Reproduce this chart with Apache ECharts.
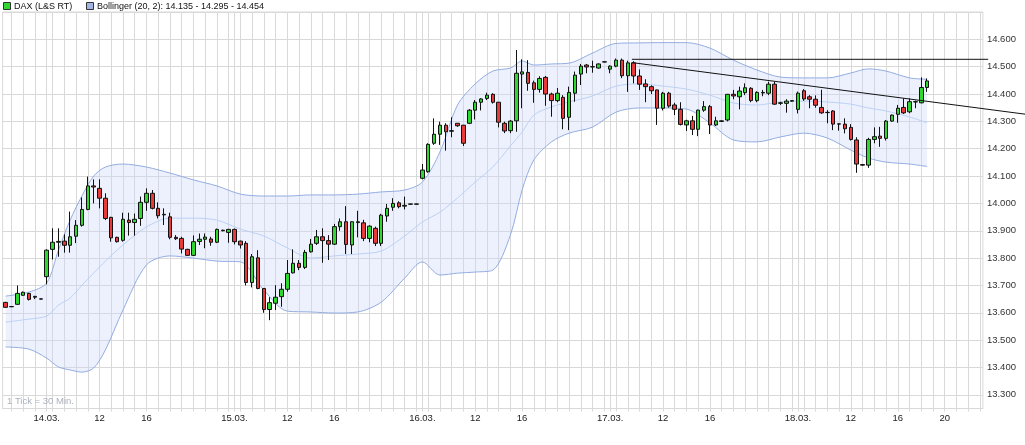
<!DOCTYPE html>
<html><head><meta charset="utf-8">
<script src="https://cdn.jsdelivr.net/npm/echarts@6/dist/echarts.min.js"></script>
<style>html,body{margin:0;padding:0;background:#fff}#c{width:1025px;height:445px}</style>
</head><body><div id="c"></div>
<script>
// ---- data ----
const days = ['11.03.', '14.03.', '15.03.', '16.03.', '17.03.', '18.03.'];
const firstSession = ['19:30', '22:30'];
const fullSession = ['07:30', '23:00'];

const open = [13638,13623,13631,13664,13671,13660,13651,13732,13832,13858,13862,13847,13880,13920,13978,14064,14055,14019,13949,13876,
13865,13939,13930,13945,14004,14037,13982,13958,13951,13876,13872,13832,13810,13861,13869,13870,13858,13902,13894,13905,
13862,13854,13711,13801,13689,13612,13635,13659,13686,13746,13781,13766,13823,13854,13878,13864,13851,13915,13933,13848,
13930,13929,13872,13909,13854,13954,13986,14002,13990,13997,13997,14092,14116,14220,14253,14286,14264,14293,14286,14293,
14341,14370,14384,14399,14370,14293,14266,14302,14473,14479,14441,14417,14461,14400,14376,14388,14315,14403,14473,14506,
14499,14495,14517,14491,14502,14524,14467,14514,14466,14437,14427,14415,14348,14403,14360,14344,14287,14302,14271,14341,
14354,14287,14300,14305,14399,14390,14405,14421,14376,14404,14403,14436,14366,14366,14374,14344,14412,14390,14381,14351,
14332,14338,14291,14290,14278,14232,14142,14140,14234,14246,14238,14301,14326,14351,14335,14371,14368,14424];
const close = [13620,13622,13671,13675,13649,13657,13650,13829,13858,13861,13847,13878,13920,13978,14064,14060,14019,13945,13874,13860,
13942,13930,13942,14004,14037,13982,13955,13960,13876,13871,13833,13810,13860,13869,13877,13858,13905,13900,13905,13860,
13848,13711,13805,13689,13612,13637,13657,13686,13744,13781,13766,13821,13851,13878,13864,13851,13915,13933,13850,13933,
13933,13872,13917,13854,13957,13982,14000,13988,13993,13998,13998,14122,14216,14253,14286,14262,14266,14284,14220,14341,
14370,14382,14396,14370,14297,14265,14301,14476,14481,14439,14417,14457,14400,14376,14403,14311,14406,14469,14502,14499,
14500,14510,14518,14502,14524,14467,14514,14466,14436,14427,14412,14348,14403,14356,14344,14289,14302,14271,14341,14354,
14287,14302,14302,14399,14393,14411,14423,14376,14406,14406,14436,14363,14368,14374,14376,14403,14382,14381,14359,14331,
14333,14290,14290,14273,14234,14144,14140,14234,14244,14238,14301,14323,14348,14331,14372,14372,14424,14448];
const low = [13618,13621,13629,13662,13645,13650,13649,13704,13795,13805,13820,13820,13855,13915,13975,14000,13982,13939,13860,13857,
13860,13882,13882,13918,13973,13978,13945,13921,13869,13866,13817,13808,13808,13848,13836,13845,13855,13898,13856,13850,
13835,13700,13693,13686,13600,13573,13610,13622,13677,13744,13756,13760,13820,13848,13783,13793,13848,13900,13815,13815,
13876,13862,13858,13844,13844,13933,13973,13982,13978,13996,13996,14088,14112,14214,14214,14193,14242,14280,14210,14290,
14307,14340,14378,14365,14278,14257,14257,14262,14348,14412,14368,14405,14357,14317,14370,14271,14268,14372,14433,14476,
14478,14493,14516,14476,14498,14458,14408,14439,14415,14370,14400,14287,14340,14350,14323,14285,14265,14250,14246,14335,
14254,14283,14298,14300,14381,14344,14396,14370,14370,14392,14396,14360,14360,14332,14372,14329,14375,14348,14350,14328,
14293,14268,14266,14256,14230,14112,14138,14130,14220,14207,14230,14298,14295,14327,14330,14348,14366,14408];
const high = [13640,13624,13700,13678,13673,13662,13652,13832,13909,13909,13887,13970,13939,14022,14098,14088,14088,14037,13951,13878,
13966,13966,13963,14025,14055,14049,14004,13982,13966,13884,13878,13834,13883,13890,13890,13878,13908,13904,13907,13908,
13864,13862,13815,13829,13690,13657,13701,13708,13793,13832,13793,13830,13870,13903,13909,13884,13925,13945,13990,13935,
13973,13940,13920,13915,13962,13998,14019,14008,14025,13999,13999,14144,14220,14311,14299,14293,14315,14294,14287,14345,
14378,14385,14405,14403,14371,14299,14305,14561,14527,14524,14449,14465,14466,14405,14422,14396,14427,14482,14510,14510,
14522,14512,14519,14505,14530,14530,14522,14520,14490,14454,14432,14416,14408,14408,14368,14370,14306,14320,14343,14374,
14360,14317,14304,14400,14415,14427,14439,14425,14410,14415,14445,14445,14372,14381,14378,14409,14418,14396,14395,14416,
14341,14341,14292,14311,14290,14242,14144,14240,14278,14280,14305,14325,14360,14384,14384,14376,14461,14457];

// Bollinger (20, 2) read at these candle positions
const bandIdx    = [0,4,7,9,11,13,15,17,20,24,28,32,36,40,44,48,52,56,60,64,68,71,74,77,80,83,86,88,90,93,96,100,104,108,112,116,120,124,128,132,136,140,144,147,150,154,157];
const bandUpper  = [13661,13676,13709,13829,13939,14027,14100,14133,14144,14133,14111,14086,14064,14034,14027,14027,14031,14031,14034,14042,14049,14078,14188,14360,14437,14484,14495,14521,14506,14510,14513,14550,14585,14587,14588,14588,14568,14524,14488,14462,14459,14459,14477,14492,14484,14459,14454];
const bandMiddle = [13566,13577,13588,13628,13654,13701,13745,13789,13848,13914,13946,13946,13939,13906,13881,13837,13800,13808,13815,13826,13881,13932,13968,14020,14078,14133,14210,14261,14323,14353,14371,14393,14429,14437,14429,14418,14396,14367,14360,14371,14374,14371,14363,14349,14338,14316,14295];
const bandLower  = [13475,13467,13434,13402,13391,13383,13398,13464,13610,13775,13808,13800,13789,13786,13683,13606,13603,13599,13603,13639,13727,13786,13738,13745,13749,13756,13884,14049,14159,14225,14257,14279,14334,14349,14349,14345,14294,14232,14225,14243,14257,14239,14195,14166,14151,14144,14135];

const yTickLabels = [13300,13400,13500,13600,13700,13800,13900,14000,14100,14200,14300,14400,14500,14600];
const xTickLabels = [
  ['14.03. 07:30','14.03.'],['14.03. 12:00','12'],['14.03. 16:00','16'],
  ['15.03. 07:30','15.03.'],['15.03. 12:00','12'],['15.03. 16:00','16'],
  ['16.03. 07:30','16.03.'],['16.03. 12:00','12'],['16.03. 16:00','16'],
  ['17.03. 07:30','17.03.'],['17.03. 12:00','12'],['17.03. 16:00','16'],
  ['18.03. 07:30','18.03.'],['18.03. 12:00','12'],['18.03. 16:00','16'],['18.03. 20:00','20']
];
// trend lines: [candle position, value]
const resistanceLine = [[106.7,14527],[167.4,14527]];
const trendLine = [[106.7,14515],[166,14348]];

const legendTexts = ['DAX (L&S RT)', 'Bollinger (20, 2): 14.135 - 14.295 - 14.454'];

// ---- build ----
function slots(from, to) {
  const r = []; let [h, m] = from.split(':').map(Number); const [eh, em] = to.split(':').map(Number);
  const p = n => (n < 10 ? '0' : '') + n;
  while (h * 60 + m <= eh * 60 + em) { r.push(p(h) + ':' + p(m)); m += 30; if (m >= 60) { m -= 60; h++; } }
  return r;
}
const categories = [];
days.forEach((d, k) => {
  const s = k === 0 ? slots(firstSession[0], firstSession[1]) : slots(fullSession[0], fullSession[1]);
  s.forEach(t => categories.push(d + ' ' + t));
});
const labelMap = {}; xTickLabels.forEach(([k, v]) => labelMap[k] = v);
const ohlc = open.map((o, i) => [o, close[i], low[i], high[i]]);
const lowerPts = bandIdx.map((x, i) => [x, bandLower[i]]);
const widthPts = bandIdx.map((x, i) => [x, bandUpper[i] - bandLower[i]]);
const middlePts = bandIdx.map((x, i) => [x, bandMiddle[i]]);
const isGridCat = v => v.endsWith(':00') || v.endsWith(fullSession[0]);
const fmt = v => { const s = String(v); return s.slice(0, s.length - 3) + '.' + s.slice(-3); };

const FONT = 'Liberation Sans, Arial, sans-serif';
const GRID = '#d9d9d9';
const BAND = '#93ace1';

const chart = echarts.init(document.getElementById('c'), null, { renderer: 'canvas' });
chart.setOption({
  animation: false,
  grid: { left: 2.65, right: 42.1, top: 12, bottom: 36.5, show: true, borderColor: GRID, borderWidth: 1, containLabel: false },
  xAxis: {
    type: 'category', data: categories, boundaryGap: true,
    axisLine: { show: true, lineStyle: { color: GRID } },
    axisTick: { show: true, alignWithLabel: true, length: 3, interval: (i, v) => isGridCat(v), lineStyle: { color: GRID } },
    splitLine: { show: true, alignWithLabel: true, interval: (i, v) => isGridCat(v), lineStyle: { color: GRID, width: 1 } },
    axisLabel: { interval: (i, v) => v in labelMap, formatter: v => labelMap[v] || '', color: '#222', fontFamily: FONT, fontSize: 9.5, margin: 5 }
  },
  yAxis: {
    type: 'value', position: 'right', min: 13250, max: 14700, interval: 50, scale: true,
    axisLine: { show: false }, axisTick: { show: false },
    splitLine: { show: true, lineStyle: { color: ['rgba(0,0,0,0)', GRID], width: 1 } },
    axisLabel: { formatter: v => yTickLabels.includes(v) ? fmt(v) : '', color: '#333', fontFamily: FONT, fontSize: 9.5, margin: 4, align: 'left' }
  },
  series: [
    { type: 'line', data: lowerPts, stack: 'bb', smooth: 0.3, showSymbol: false, lineStyle: { color: BAND, width: 1 }, silent: true, z: 1 },
    { type: 'line', data: widthPts, stack: 'bb', smooth: 0.3, showSymbol: false, lineStyle: { color: BAND, width: 1 },
      areaStyle: { color: 'rgba(200,216,250,0.5)' }, silent: true, z: 1 },
    { type: 'line', data: middlePts, smooth: 0.3, showSymbol: false, lineStyle: { color: '#bcd0f5', width: 1 }, silent: true, z: 1 },
    { type: 'candlestick', data: ohlc, barWidth: 4, z: 3,
      itemStyle: { color: '#2fd82f', color0: '#e83a3a', borderColor: '#111', borderColor0: '#111', borderWidth: 1 } }
  ]
});

// trend lines + legend via library scales
const p0 = chart.convertToPixel({ gridIndex: 0 }, [0, 14000]);
const p1 = chart.convertToPixel({ gridIndex: 0 }, [1, 14000]);
const step = p1[0] - p0[0];
const px = (idx, v) => [p0[0] + idx * step, chart.convertToPixel({ gridIndex: 0 }, [0, v])[1]];
const ra = px(resistanceLine[0][0], resistanceLine[0][1]), rb = px(resistanceLine[1][0], resistanceLine[1][1]);
const ta = px(trendLine[0][0], trendLine[0][1]), tb = px(trendLine[1][0], trendLine[1][1]);
const W = chart.getWidth();
const slope = (tb[1] - ta[1]) / (tb[0] - ta[0]);
const tEnd = [W, ta[1] + slope * (W - ta[0])];

chart.setOption({
  graphic: [
    { type: 'line', z: 100, shape: { x1: ra[0], y1: ra[1], x2: rb[0], y2: rb[1] }, style: { stroke: '#111', lineWidth: 1 } },
    { type: 'line', z: 100, shape: { x1: ta[0], y1: ta[1], x2: tEnd[0], y2: tEnd[1] }, style: { stroke: '#111', lineWidth: 1 } },
    { type: 'rect', z: 100, shape: { x: 3.5, y: 2.5, width: 7, height: 7 }, style: { fill: '#2fd82f', stroke: '#333', lineWidth: 1 } },
    { type: 'text', z: 100, x: 14, y: 6.5, style: { text: legendTexts[0], font: '9px ' + FONT, fill: '#111', verticalAlign: 'middle' } },
    { type: 'rect', z: 100, shape: { x: 86.5, y: 2.5, width: 7, height: 7 }, style: { fill: '#a3b5e3', stroke: '#333', lineWidth: 1 } },
    { type: 'text', z: 100, x: 97, y: 6.5, style: { text: legendTexts[1], font: '9px ' + FONT, fill: '#111', verticalAlign: 'middle' } },
    { type: 'text', z: 100, x: 7, y: 401, style: { text: '1 Tick = 30 Min.', font: '9.5px ' + FONT, fill: '#aab0bc', verticalAlign: 'middle' } }
  ]
});
</script></body></html>
